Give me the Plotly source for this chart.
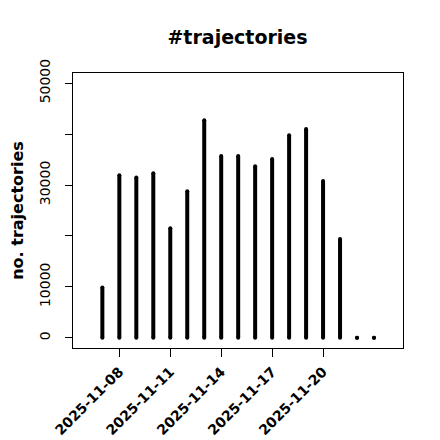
import plotly.graph_objects as go
import pandas as pd

dates = pd.date_range("2025-11-07", "2025-11-23", freq="D")
counts = [9900, 31900, 31500, 32300, 21500, 28800, 42700, 35700, 35700,
          33700, 35100, 39800, 41000, 30800, 19400, 0, 0]
y_tick_vals = [0, 10000, 20000, 30000, 40000, 50000]
y_tick_text = ["0", "10000", "", "30000", "", "50000"]
x_tick_vals = ["2025-11-08", "2025-11-11", "2025-11-14", "2025-11-17", "2025-11-20"]

xs, ys = [], []
for d, c in zip(dates, counts):
    xs += [d, d, None]
    ys += [0, c, None]

fig = go.Figure()
fig.add_trace(go.Scatter(
    x=xs, y=ys, mode="lines+markers",
    line=dict(color="black", width=4),
    marker=dict(color="black", size=4),
    hoverinfo="skip", showlegend=False,
))

x0 = dates[0] - pd.Timedelta(hours=41.5)
x1 = dates[-1] + pd.Timedelta(hours=41)

W = H = 432  # page has an 8px body margin
fig.update_layout(
    width=W, height=H,
    margin=dict(l=65, r=37, t=65, b=92, autoexpand=False),
    paper_bgcolor="white", plot_bgcolor="white",
    font=dict(family="DejaVu Sans", color="black"),
    title=dict(text="<b>#trajectories</b>", x=(237.5 - 8) / W, xanchor="center",
               y=1 - 29 / H, yanchor="middle",
               font=dict(size=19, family="DejaVu Sans")),
    showlegend=False,
)
fig.update_xaxes(
    type="date", range=[x0, x1], automargin=False,
    tickvals=x_tick_vals, ticktext=["<b>%s</b>" % t for t in x_tick_vals],
    tickangle=-45, tickfont=dict(size=14, family="DejaVu Sans"),
    ticks="outside", ticklen=8, tickcolor="black", tickwidth=1,
    ticklabelstandoff=1,
    showline=True, linecolor="black", linewidth=1, mirror=True,
    showgrid=False, zeroline=False,
)
fig.update_yaxes(
    range=[-2000, 52000], automargin=False,
    tickvals=y_tick_vals, ticktext=y_tick_text,
    tickangle=-90, tickfont=dict(size=14, family="DejaVu Sans"),
    ticks="outside", ticklen=7, tickcolor="black", tickwidth=1,
    ticklabelstandoff=9,
    showline=True, linecolor="black", linewidth=1, mirror=True,
    showgrid=False, zeroline=False,
    title=dict(text="<b>no. trajectories</b>", standoff=17,
               font=dict(size=16, family="DejaVu Sans")),
)

fig.write_html("out.html")
